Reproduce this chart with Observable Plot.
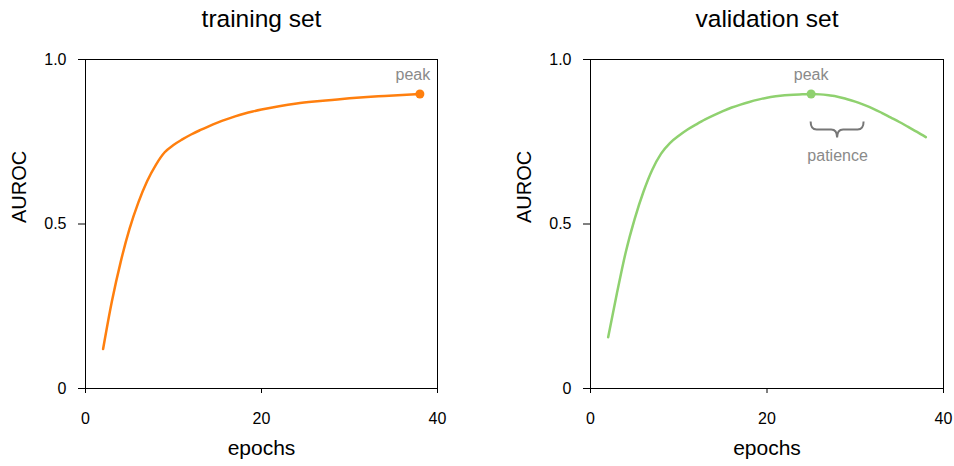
<!DOCTYPE html>
<html>
<head>
<meta charset="utf-8">
<script src="https://cdn.jsdelivr.net/npm/d3@7"></script>
<script src="https://cdn.jsdelivr.net/npm/@observablehq/plot@0.6"></script>
<style>
  html, body { margin: 0; padding: 0; background: #fff; }
  #wrap { position: relative; width: 954px; height: 466px; font-family: "Liberation Sans", Arial, sans-serif; }
  #wrap > svg { position: absolute; top: 0; }
</style>
</head>
<body>
<div id="wrap"></div>
<script>
// ---- data ----
const panelTitles = ["training set", "validation set"];
const xTicks = [0, 20, 40];
const yTicks = [0, 0.5, 1];
const yTickLabels = ["0", "0.5", "1.0"];

const trainEpochs = [2,3,4,5,6,7,8,9,10,11,12,13,14,15,16,17,18,19,20,22,24,26,28,30,32,34,36,38];
const trainAuroc  = [0.12,0.265,0.385,0.485,0.565,0.63,0.68,0.718,0.74,0.757,0.772,0.785,0.797,0.808,0.818,0.827,0.835,0.842,0.848,0.858,0.866,0.872,0.877,0.882,0.886,0.889,0.892,0.895];

const valEpochs = [2,3,4,5,6,7,8,9,10,11,12,13,14,15,16,17,18,19,20,21,22,23,24,25,26,27,28,29,30,31,32,33,34,35,36,37,38];
const valAuroc  = [0.156,0.29,0.415,0.515,0.598,0.665,0.714,0.746,0.768,0.787,0.803,0.818,0.831,0.843,0.854,0.863,0.871,0.878,0.884,0.888,0.891,0.893,0.894,0.895,0.894,0.891,0.887,0.880,0.872,0.862,0.851,0.838,0.824,0.810,0.795,0.780,0.764];

const trainPeak = {epoch: 38, auroc: 0.895};
const valPeak = {epoch: 25, auroc: 0.895};
const patienceStart = 25, patienceEnd = 31, patienceY = 0.81;

const trainColor = "#ff7f0e";
const valColor = "#8fd16f";
const grey = "#8a8a8a";
const font = "'Liberation Sans', Arial, sans-serif";

function panel({title, epochs, auroc, color, peak, marginLeft, marginRight, peakDx, brace}) {
  const data = epochs.map((e, i) => ({epoch: e, auroc: auroc[i]}));
  const marks = [
    Plot.frame({stroke: "#000", strokeWidth: 1}),
    Plot.axisX(xTicks, {label: null, tickSize: 5, tickPadding: 19, fontSize: 16, stroke: "#000", fill: "#000"}),
    Plot.axisY(yTicks, {label: null, tickSize: 7, tickPadding: 12, fontSize: 16, stroke: "#000", fill: "#000",
      tickFormat: (d) => yTickLabels[yTicks.indexOf(d)]}),
    Plot.line(data, {x: "epoch", y: "auroc", stroke: color, strokeWidth: 2.5, curve: "monotone-x"}),
    Plot.dot([peak], {x: "epoch", y: "auroc", fill: color, r: 4.5}),
    Plot.text([peak], {x: "epoch", y: "auroc", text: () => "peak", fill: grey, fontSize: 16, lineAnchor: "middle", dy: -19, dx: peakDx}),
    Plot.text([title], {frameAnchor: "top", text: d => d, fontSize: 24.5, fill: "#000", lineAnchor: "middle", dy: -40}),
    Plot.text(["epochs"], {frameAnchor: "bottom", text: d => d, fontSize: 21, fill: "#000", lineAnchor: "middle", dy: 60}),
    Plot.text(["AUROC"], {frameAnchor: "left", text: d => d, fontSize: 20, fill: "#000", lineAnchor: "middle", rotate: -90, dx: -66, dy: -1})
  ];
  if (brace) {
    marks.push((index, scales) => {
      const sx = scales.x, sy = scales.y;
      const x0 = sx(brace.start), x1 = sx(brace.end), xm = (x0 + x1) / 2;
      const yTop = sy(brace.y), yMid = yTop + 8, yTip = yMid + 8;
      const r = 6;
      const path = document.createElementNS("http://www.w3.org/2000/svg", "path");
      path.setAttribute("d",
        `M${x0},${yTop} Q${x0},${yMid} ${x0 + r},${yMid} L${xm - r},${yMid} Q${xm},${yMid} ${xm},${yTip} ` +
        `M${xm},${yTip} Q${xm},${yMid} ${xm + r},${yMid} L${x1 - r},${yMid} Q${x1},${yMid} ${x1},${yTop}`);
      path.setAttribute("fill", "none");
      path.setAttribute("stroke", "#777");
      path.setAttribute("stroke-width", 2);
      const g = document.createElementNS("http://www.w3.org/2000/svg", "g");
      g.appendChild(path);
      return g;
    });
    marks.push(Plot.text([brace], {x: d => (d.start + d.end) / 2, y: "y", text: () => "patience", fill: grey, fontSize: 16, lineAnchor: "middle", dy: 34}));
  }
  return Plot.plot({
    width: 477, height: 466,
    marginLeft, marginRight, marginTop: 59, marginBottom: 78,
    style: {fontFamily: font, background: "transparent", overflow: "visible"},
    x: {domain: [0, 40], label: null},
    y: {domain: [0, 1], label: null},
    marks
  });
}

const wrap = document.getElementById("wrap");
const left = panel({title: panelTitles[0], epochs: trainEpochs, auroc: trainAuroc, color: trainColor,
  peak: trainPeak, marginLeft: 85, marginRight: 40, peakDx: -7});
left.style.left = "0px";
wrap.appendChild(left);
const right = panel({title: panelTitles[1], epochs: valEpochs, auroc: valAuroc, color: valColor,
  peak: valPeak, marginLeft: 113, marginRight: 11, peakDx: 0,
  brace: {start: patienceStart, end: patienceEnd, y: patienceY}});
right.style.left = "477px";
wrap.appendChild(right);
</script>
</body>
</html>
